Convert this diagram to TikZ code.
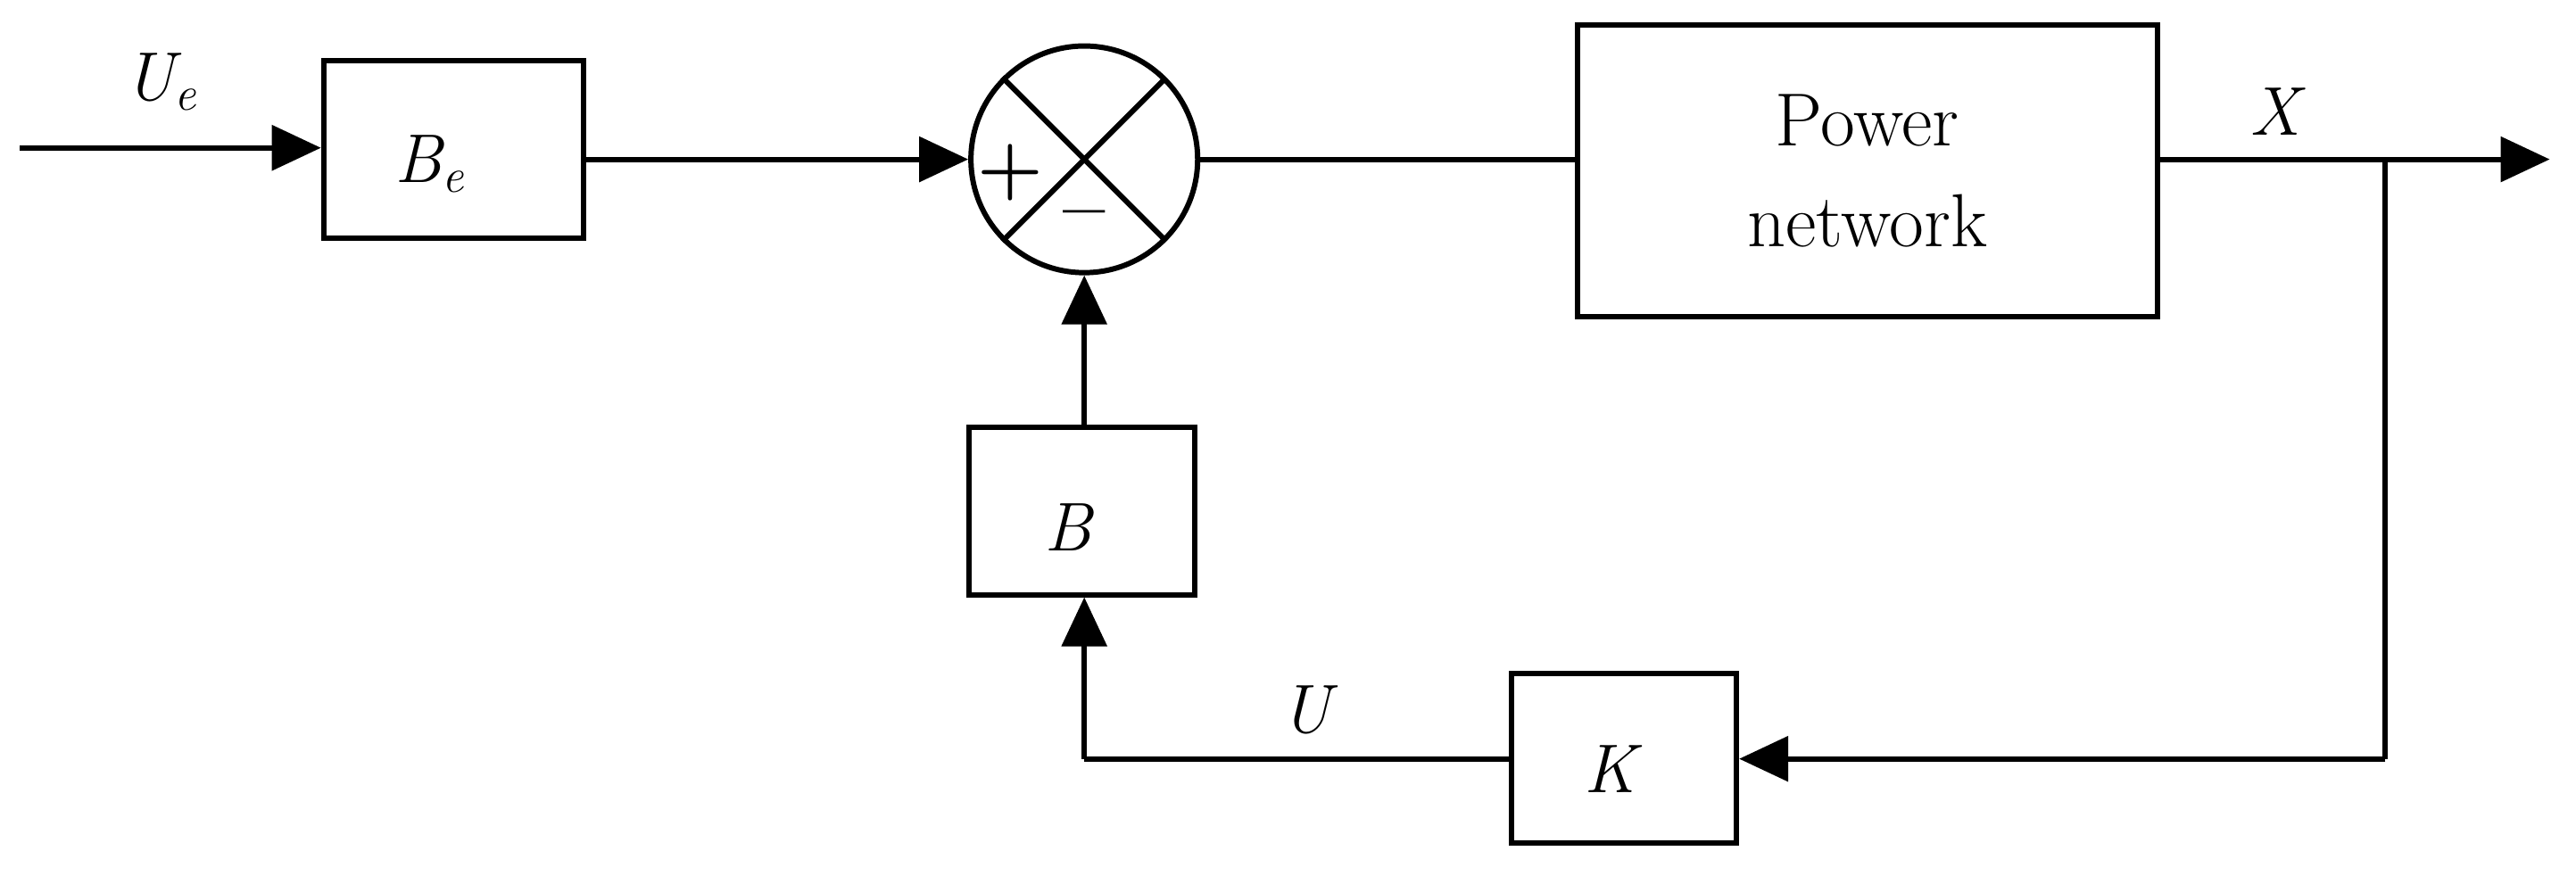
\documentclass[tikz,border=0pt]{standalone}
\usetikzlibrary{arrows.meta}
\begin{document}
\begin{tikzpicture}[x=0.01841cm,y=-0.01841cm,
  ln/.style={line width=1.7pt},
  ar/.style={ln,-{Triangle[length=0.55cm,width=0.5cm]}},
  box/.style={draw,line width=1.7pt,inner sep=0pt},
  lab/.style={font=\fontsize{22}{26}\selectfont\itshape}]
\useasboundingbox (0,0) rectangle (1568,533);
\node[box,minimum width=158*0.01841cm,minimum height=108*0.01841cm] (be) at (276,91) {};
\node[lab] at (262,100) {B\textsubscript{e}};
\node[box,minimum width=353*0.01841cm,minimum height=178*0.01841cm,align=center,font=\fontsize{24}{32}\selectfont] (pn) at (1136.5,104) {Power\\network};
\node[box,minimum width=137*0.01841cm,minimum height=102*0.01841cm] (b) at (658.5,311) {};
\node[lab] at (650,321) {B};
\node[box,minimum width=137*0.01841cm,minimum height=103*0.01841cm] (k) at (988.5,461.5) {};
\node[lab] at (980,468) {K};
\node[draw,circle,line width=1.7pt,minimum size=138*0.01841cm,inner sep=0pt] (s) at (660,97) {};
\draw[ln] (s.45) -- (s.225) (s.135) -- (s.315);
\node[font=\fontsize{24}{28}\selectfont\bfseries] at (615,105) {+};
\node[font=\fontsize{24}{28}\selectfont\bfseries] at (660,135) {--};
\coordinate (in) at (12,90);
\coordinate (out) at (1552,97);
\coordinate (br) at (1452,97);
\coordinate (brd) at (1452,462);
\coordinate (c) at (660,462);
\draw[ar] (in) -- (in -| be.west);
\draw[ar] (be.east |- 0,97) -- (s.west);
\draw[ln] (s.east) -- (pn.west |- s.east);
\draw[ar] (pn.east |- out) -- (out);
\draw[ln] (br) -- (brd);
\draw[ar] (brd) -- (k.east |- brd);
\draw[ln] (k.west |- c) -- (c);
\draw[ar] (c) -- (c |- b.south);
\draw[ar] (b.north -| s.south) -- (s.south);
\node[lab] at (98,50) {U\textsubscript{e}};
\node[lab] at (1385,68) {X};
\node[lab] at (795,432) {U};
\end{tikzpicture}
\end{document}
